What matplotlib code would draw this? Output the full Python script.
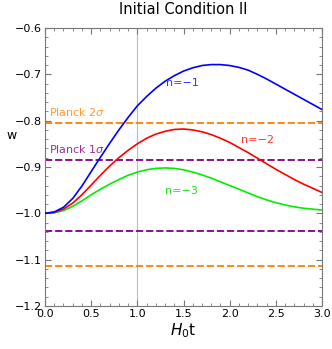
import matplotlib.pyplot as plt
from matplotlib.ticker import MultipleLocator

# H0 t grid and read-off values of w for each n
t = [0.0, 0.1, 0.2, 0.3, 0.4, 0.5, 0.6, 0.7, 0.8, 0.9, 1.0,
     1.1, 1.2, 1.3, 1.4, 1.5, 1.6, 1.7, 1.8, 1.9, 2.0,
     2.1, 2.2, 2.3, 2.4, 2.5, 2.6, 2.7, 2.8, 2.9, 3.0]
w_n1 = [-1.000, -0.997, -0.987, -0.968, -0.941, -0.910, -0.879, -0.849, -0.820, -0.793, -0.768,
        -0.748, -0.730, -0.715, -0.703, -0.693, -0.686, -0.681, -0.679, -0.679, -0.681,
        -0.685, -0.691, -0.700, -0.710, -0.721, -0.732, -0.743, -0.754, -0.765, -0.776]
w_n2 = [-1.000, -0.998, -0.991, -0.978, -0.960, -0.939, -0.918, -0.898, -0.880, -0.864, -0.850,
        -0.838, -0.829, -0.823, -0.819, -0.818, -0.820, -0.824, -0.830, -0.838, -0.847,
        -0.858, -0.869, -0.881, -0.893, -0.905, -0.916, -0.927, -0.937, -0.946, -0.955]
w_n3 = [-1.000, -0.999, -0.994, -0.985, -0.973, -0.960, -0.948, -0.937, -0.927, -0.918, -0.911,
        -0.906, -0.903, -0.902, -0.903, -0.906, -0.911, -0.917, -0.924, -0.932, -0.940,
        -0.948, -0.956, -0.964, -0.971, -0.977, -0.982, -0.986, -0.989, -0.991, -0.993]

planck_1sigma = [-0.884, -1.038]
planck_2sigma = [-0.806, -1.114]

ORANGE = "#ff8000"
PURPLE = "#800080"

fig = plt.figure(figsize=(3.32, 3.49), dpi=100)
ax = fig.add_axes([0.1355, 0.1232, 0.8345, 0.7966])

ax.axvline(1.0, color="#bbbbbb", lw=0.8, zorder=1)
for y in planck_2sigma:
    ax.axhline(y, color=ORANGE, lw=1.3, dashes=(4, 1.6), zorder=2)
for y in planck_1sigma:
    ax.axhline(y, color=PURPLE, lw=1.3, dashes=(4, 1.6), zorder=2)

ax.plot(t, w_n3, color="#00ee00", lw=1.2, zorder=3)
ax.plot(t, w_n2, color="#ff0000", lw=1.2, zorder=3)
ax.plot(t, w_n1, color="#0000ff", lw=1.2, zorder=3)

ax.text(1.49, -0.719, "n=\u22121", color="#3333ff", fontsize=8, ha="center", va="center")
ax.text(2.30, -0.842, "n=\u22122", color="#ff3333", fontsize=8, ha="center", va="center")
ax.text(1.48, -0.951, "n=\u22123", color="#22dd22", fontsize=8, ha="center", va="center")
ax.text(0.045, -0.781, "Planck 2$\\sigma$", color="#ff9933", fontsize=8, ha="left", va="center")
ax.text(0.045, -0.862, "Planck 1$\\sigma$", color="#993399", fontsize=8, ha="left", va="center")

ax.set_xlim(0, 3)
ax.set_ylim(-1.2, -0.6)
ax.xaxis.set_major_locator(MultipleLocator(0.5))
ax.xaxis.set_minor_locator(MultipleLocator(0.1))
ax.yaxis.set_major_locator(MultipleLocator(0.1))
ax.yaxis.set_minor_locator(MultipleLocator(0.02))
ax.xaxis.set_major_formatter(plt.FuncFormatter(lambda v, p: f"{v:.1f}"))
ax.yaxis.set_major_formatter(plt.FuncFormatter(lambda v, p: f"{v:.1f}".replace("-", "\u2212")))
ax.tick_params(which="both", direction="in", top=True, right=True, color="#777777",
               labelsize=8, pad=2)
ax.tick_params(which="major", length=4)
ax.tick_params(which="minor", length=2)
for s in ax.spines.values():
    s.set_color("#777777")

ax.set_xlabel("$H_0$t", fontsize=11, labelpad=2)
ax.set_ylabel("w", fontsize=9, rotation=0, va="center", ha="center")
ax.yaxis.set_label_coords(-0.12, 0.615)
ax.set_title("Initial Condition II", fontsize=10.5, pad=10)

fig.savefig("out.png", dpi=100)
